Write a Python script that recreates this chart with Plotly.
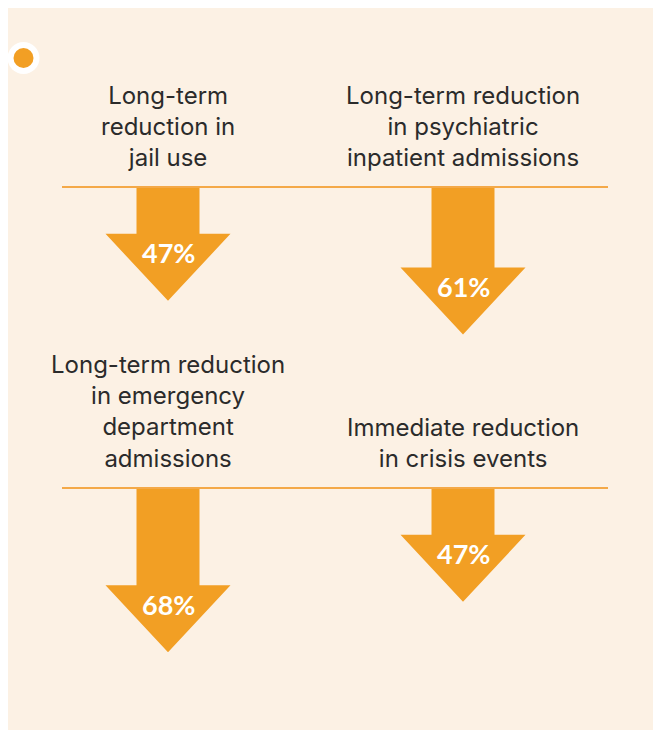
import plotly.graph_objects as go

# values
labels = [
    "Long-term<br>reduction in<br>jail use",
    "Long-term reduction<br>in psychiatric<br>inpatient admissions",
    "Long-term reduction<br>in emergency<br>department<br>admissions",
    "Immediate reduction<br>in crisis events",
]
reductions = [47, 61, 68, 47]
grid_col = [0, 1, 0, 1]
grid_row = [0, 0, 1, 1]

W, H = 661, 738
OFFSET = 8  # page margin of the html body
ORANGE = "#F29F24"
CREAM = "#FCF1E4"
TEXT = "#2B2B2B"

col_x = [168, 463]
row_y = [187, 488]
px_per_pct = 2.4
shaft_half = 31.5
head_half = 62.5
head_h = 67

fig = go.Figure()

# bullet on the panel edge
fig.add_shape(type="line", xref="x", yref="y", x0=0, y0=58, x1=20, y1=58,
              line={"color": ORANGE, "width": 3})
fig.add_shape(type="circle", xref="x", yref="y", x0=23.5 - 16, y0=58 - 16,
              x1=23.5 + 16, y1=58 + 16, fillcolor="white", line={"width": 0})
fig.add_shape(type="circle", xref="x", yref="y", x0=23.5 - 10, y0=58 - 10,
              x1=23.5 + 10, y1=58 + 10, fillcolor=ORANGE, line={"width": 0})

# divider lines
for y in row_y:
    fig.add_shape(type="line", xref="x", yref="y", x0=62, y0=y, x1=608, y1=y,
                  line={"color": "#F4A948", "width": 2})

for label, value, c, r in zip(labels, reductions, grid_col, grid_row):
    cx = col_x[c]
    top = row_y[r] + 1
    tip = top + value * px_per_pct
    neck = tip - head_h
    path = (
        f"M{cx - shaft_half},{top} L{cx + shaft_half},{top} "
        f"L{cx + shaft_half},{neck} L{cx + head_half},{neck} L{cx},{tip} "
        f"L{cx - head_half},{neck} L{cx - shaft_half},{neck} Z"
    )
    fig.add_shape(type="path", xref="x", yref="y", path=path,
                  fillcolor=ORANGE, line={"width": 0})
    fig.add_annotation(x=cx, y=neck + 19, xref="x", yref="y", text=f"<b>{value}%</b>",
                       showarrow=False, font={"family": "Lato", "size": 27, "color": "white"})
    fig.add_annotation(x=cx, y=row_y[r] - 13, xref="x", yref="y", text=label,
                       showarrow=False, yanchor="bottom", align="center",
                       font={"family": "Inter", "size": 24, "color": TEXT})

fig.update_layout(
    width=W - OFFSET,
    height=H - 2 * OFFSET,
    margin={"l": 0, "r": 0, "t": 0, "b": 0},
    paper_bgcolor=CREAM,
    plot_bgcolor=CREAM,
    showlegend=False,
)
fig.update_xaxes(range=[OFFSET, W], visible=False, fixedrange=True)
fig.update_yaxes(range=[H - OFFSET, OFFSET], visible=False, fixedrange=True)

fig.write_html("out.html")
